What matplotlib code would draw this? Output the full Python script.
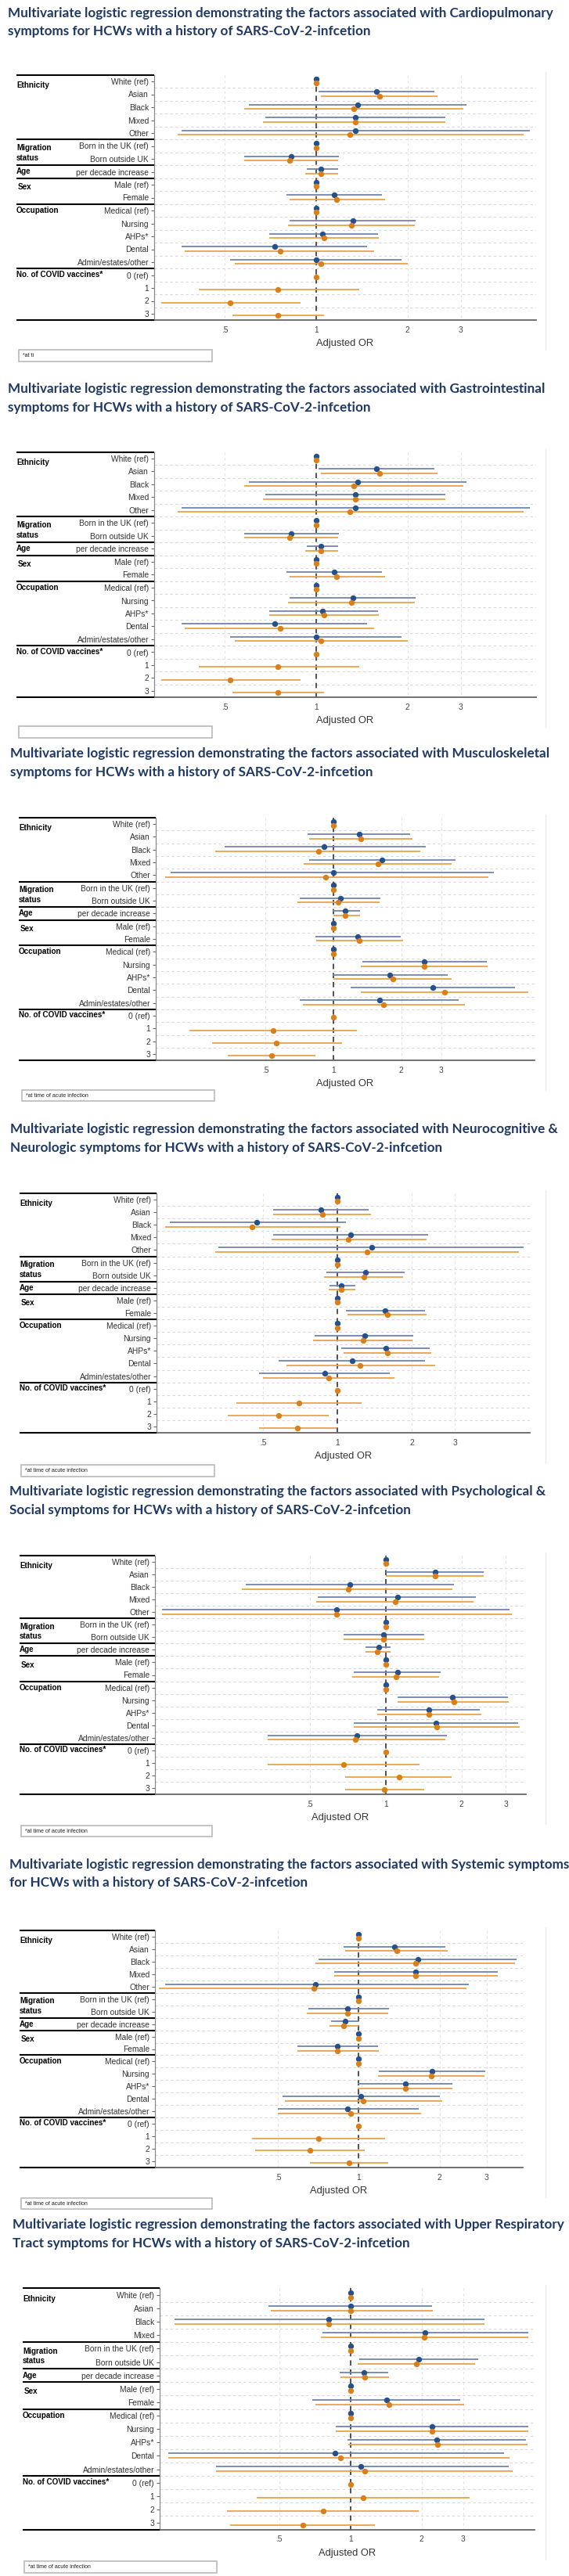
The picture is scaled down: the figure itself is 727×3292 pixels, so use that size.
import numpy as np
import matplotlib
matplotlib.use("Agg")
import matplotlib.pyplot as plt
import matplotlib.font_manager as fm
from matplotlib.transforms import blended_transform_factory
from matplotlib.lines import Line2D
from matplotlib.patches import Rectangle
from matplotlib.ticker import FixedLocator, NullLocator, FixedFormatter

# ---------------- DATA ----------------
ROW_LABELS = ["White (ref)", "Asian", "Black", "Mixed", "Other",
              "Born in the UK (ref)", "Born outside UK", "per decade increase",
              "Male (ref)", "Female", "Medical (ref)", "Nursing", "AHPs*",
              "Dental", "Admin/estates/other", "0 (ref)", "1", "2", "3"]
ROW_LABELS_URT = [l for l in ROW_LABELS if l != "Other"]

GROUPS = ["Ethnicity", "Migration\nstatus", "Age", "Sex", "Occupation", "No. of COVID vaccines*"]

XTICKS = [0.5, 1, 2, 3]
XTICK_LABELS = [".5", "1", "2", "3"]

# Cardiopulmonary (blue = model without vaccines, orange = model with vaccines)
CP_B_OR = [1, 1.58, 1.37, 1.35, 1.35, 1, 0.83, 1.04, 1, 1.15, 1, 1.32, 1.05, 0.73, 1.00]
CP_B_LO = [1, 1.02, 0.60, 0.68, 0.36, 1, 0.58, 0.93, 1, 0.80, 1, 0.82, 0.70, 0.36, 0.52]
CP_B_HI = [1, 2.45, 3.13, 2.66, 5.05, 1, 1.19, 1.18, 1, 1.65, 1, 2.13, 1.60, 1.47, 1.91]
CP_O_OR = [1, 1.62, 1.33, 1.35, 1.29, 1, 0.82, 1.04, 1, 1.17, 1, 1.31, 1.06, 0.76, 1.04, 1, 0.75, 0.52, 0.75]
CP_O_LO = [1, 1.04, 0.58, 0.67, 0.35, 1, 0.58, 0.92, 1, 0.82, 1, 0.81, 0.70, 0.37, 0.54, 1, 0.41, 0.31, 0.53]
CP_O_HI = [1, 2.52, 3.05, 2.67, 4.82, 1, 1.18, 1.18, 1, 1.69, 1, 2.11, 1.61, 1.55, 2.01, 1, 1.39, 0.89, 1.06]

# Gastrointestinal (identical values in the source figure)
GI_B_OR = list(CP_B_OR)
GI_B_LO = list(CP_B_LO)
GI_B_HI = list(CP_B_HI)
GI_O_OR = list(CP_O_OR)
GI_O_LO = list(CP_O_LO)
GI_O_HI = list(CP_O_HI)

# Musculoskeletal
MS_B_OR = [1, 1.30, 0.91, 1.64, 1.00, 1, 1.07, 1.13, 1, 1.28, 1, 2.53, 1.78, 2.75, 1.60]
MS_B_LO = [1, 0.77, 0.33, 0.78, 0.19, 1, 0.71, 0.99, 1, 0.83, 1, 1.34, 0.99, 1.19, 0.71]
MS_B_HI = [1, 2.19, 2.56, 3.47, 5.15, 1, 1.62, 1.31, 1, 1.99, 1, 4.78, 3.21, 6.36, 3.60]
MS_O_OR = [1, 1.32, 0.86, 1.57, 0.92, 1, 1.05, 1.13, 1, 1.30, 1, 2.52, 1.83, 3.11, 1.67, 1, 0.54, 0.56, 0.53]
MS_O_LO = [1, 0.78, 0.30, 0.74, 0.18, 1, 0.69, 1.00, 1, 0.84, 1, 1.32, 1.00, 1.32, 0.73, 1, 0.23, 0.29, 0.34]
MS_O_HI = [1, 2.24, 2.42, 3.35, 4.85, 1, 1.60, 1.31, 1, 2.03, 1, 4.82, 3.34, 7.32, 3.83, 1, 1.27, 1.09, 0.83]

# Neurocognitive & Neurologic
NE_B_OR = [1, 0.86, 0.47, 1.13, 1.38, 1, 1.30, 1.04, 1, 1.56, 1, 1.29, 1.57, 1.15, 0.89]
NE_B_LO = [1, 0.55, 0.21, 0.55, 0.33, 1, 0.90, 0.93, 1, 1.08, 1, 0.81, 1.04, 0.58, 0.48]
NE_B_HI = [1, 1.34, 1.08, 2.33, 5.69, 1, 1.87, 1.18, 1, 2.26, 1, 2.03, 2.36, 2.27, 1.63]
NE_O_OR = [1, 0.87, 0.45, 1.11, 1.32, 1, 1.28, 1.04, 1, 1.59, 1, 1.27, 1.59, 1.24, 0.92, 1, 0.70, 0.58, 0.69]
NE_O_LO = [1, 0.55, 0.20, 0.54, 0.32, 1, 0.88, 0.92, 1, 1.10, 1, 0.80, 1.06, 0.62, 0.50, 1, 0.39, 0.36, 0.48]
NE_O_HI = [1, 1.37, 1.03, 2.30, 5.45, 1, 1.85, 1.18, 1, 2.30, 1, 2.02, 2.40, 2.50, 1.71, 1, 1.25, 0.92, 0.99]

# Psychological & Social
PS_B_OR = [1, 1.57, 0.72, 1.12, 0.64, 1, 0.98, 0.94, 1, 1.12, 1, 1.84, 1.48, 1.58, 0.77]
PS_B_LO = [1, 1.00, 0.28, 0.54, 0.13, 1, 0.68, 0.83, 1, 0.75, 1, 1.12, 0.93, 0.75, 0.34]
PS_B_HI = [1, 2.45, 1.86, 2.28, 3.10, 1, 1.42, 1.05, 1, 1.65, 1, 3.05, 2.37, 3.35, 1.75]
PS_O_OR = [1, 1.57, 0.71, 1.09, 0.64, 1, 0.98, 0.93, 1, 1.10, 1, 1.86, 1.49, 1.59, 0.76, 1, 0.68, 1.13, 0.99]
PS_O_LO = [1, 1.00, 0.27, 0.53, 0.13, 1, 0.68, 0.83, 1, 0.74, 1, 1.12, 0.93, 0.75, 0.34, 1, 0.34, 0.69, 0.69]
PS_O_HI = [1, 2.45, 1.84, 2.23, 3.16, 1, 1.42, 1.05, 1, 1.63, 1, 3.08, 2.39, 3.39, 1.73, 1, 1.36, 1.83, 1.42]

# Systemic
SY_B_OR = [1, 1.36, 1.66, 1.63, 0.69, 1, 0.91, 0.89, 1, 0.83, 1, 1.88, 1.49, 1.02, 0.91]
SY_B_LO = [1, 0.88, 0.71, 0.81, 0.19, 1, 0.65, 0.79, 1, 0.59, 1, 1.19, 0.99, 0.52, 0.50]
SY_B_HI = [1, 2.10, 3.88, 3.29, 2.57, 1, 1.30, 1.00, 1, 1.18, 1, 2.97, 2.23, 2.00, 1.67]
SY_O_OR = [1, 1.39, 1.63, 1.63, 0.68, 1, 0.91, 0.88, 1, 0.83, 1, 1.86, 1.49, 1.04, 0.93, 1, 0.71, 0.66, 0.92]
SY_O_LO = [1, 0.89, 0.69, 0.81, 0.18, 1, 0.64, 0.78, 1, 0.59, 1, 1.18, 0.99, 0.53, 0.50, 1, 0.40, 0.41, 0.66]
SY_O_HI = [1, 2.15, 3.82, 3.30, 2.53, 1, 1.29, 1.00, 1, 1.19, 1, 2.95, 2.24, 2.05, 1.71, 1, 1.25, 1.05, 1.29]

# Upper Respiratory Tract (no "Other" row)
UR_B_OR = [1, 1.00, 0.81, 2.07, 1, 1.94, 1.14, 1, 1.42, 1, 2.21, 2.31, 0.86, 1.11]
UR_B_LO = [1, 0.45, 0.18, 0.76, 1, 1.09, 0.90, 1, 0.69, 1, 0.87, 0.97, 0.17, 0.27]
UR_B_HI = [1, 2.22, 3.69, 5.66, 1, 3.46, 1.45, 1, 2.92, 1, 5.66, 5.54, 4.45, 4.67]
UR_O_OR = [1, 1.00, 0.81, 2.05, 1, 1.90, 1.15, 1, 1.46, 1, 2.21, 2.34, 0.91, 1.15, 1, 1.13, 0.77, 0.63]
UR_O_LO = [1, 0.46, 0.18, 0.75, 1, 1.07, 0.91, 1, 0.71, 1, 0.87, 0.98, 0.17, 0.27, 1, 0.40, 0.30, 0.31]
UR_O_HI = [1, 2.23, 3.69, 5.64, 1, 3.36, 1.46, 1, 3.02, 1, 5.66, 5.62, 4.72, 4.86, 1, 3.20, 1.95, 1.27]

T1 = "Multivariate logistic regression demonstrating the factors associated with "
TITLES = [
    (T1 + "Cardiopulmonary", "symptoms for HCWs with a history of SARS-CoV-2-infcetion"),
    (T1 + "Gastrointestinal", "symptoms for HCWs with a history of SARS-CoV-2-infcetion"),
    (T1 + "Musculoskeletal", "symptoms for HCWs with a history of SARS-CoV-2-infcetion"),
    (T1 + "Neurocognitive &", "Neurologic symptoms for HCWs with a history of SARS-CoV-2-infcetion"),
    (T1 + "Psychological &", "Social symptoms for HCWs with a history of SARS-CoV-2-infcetion"),
    (T1 + "Systemic symptoms", "for HCWs with a history of SARS-CoV-2-infcetion"),
    (T1 + "Upper Respiratory", "Tract symptoms for HCWs with a history of SARS-CoV-2-infcetion"),
]
FOOTNOTES = ["*at ti", "", "*at time of acute infection", "*at time of acute infection",
             "*at time of acute infection", "*at time of acute infection",
             "*at time of acute infection"]

# ---------------- STYLE / LAYOUT ----------------
W, H = 727, 3292
avail = {f.name for f in fm.fontManager.ttflist}
def pick(cands):
    for c in cands:
        if c in avail:
            return c
    return "DejaVu Sans"
TITLE_FONT = pick(["Lato", "Roboto", "Open Sans", "Liberation Sans"])
LAB_FONT = pick(["Liberation Sans", "Roboto", "DejaVu Sans"])

TITLE_COLOR = "#1F3864"
BLUE_LINE, BLUE_DOT = "#6F86AE", "#24508C"
ORANGE_LINE, ORANGE_DOT = "#E8A34A", "#DD7F17"

fig = plt.figure(figsize=(W / 100, H / 100), dpi=100)
fig.patch.set_facecolor("white")
renderer = fig.canvas.get_renderer()

def fit(text, family, weight, target_px, base=10.0):
    t = fig.text(0, 0, text, fontsize=base, family=family, fontweight=weight)
    w = t.get_window_extent(renderer=renderer).width
    t.remove()
    return base * target_px / w

FS_TITLE = fit(TITLES[0][0], TITLE_FONT, "bold", 697)
FS_ROW = fit("Admin/estates/other", LAB_FONT, "normal", 92)
FS_GROUP = fit("No. of COVID vaccines*", LAB_FONT, "bold", 110)
FS_XLAB = fit("Adjusted OR", LAB_FONT, "normal", 73)
FS_FOOT = fit("*at time of acute infection", LAB_FONT, "normal", 80)
FS_XT = FS_ROW * 1.0

GEOM = [
    dict(tx=10, ty=(17, 40), l=197, r=685, y0=104, y1=401, lx=21, xlim=(0.293, 5.31), box=(24, 271, 447, 462)),
    dict(tx=10, ty=(497, 521), l=197, r=685, y0=586, y1=883, lx=21, xlim=(0.293, 5.31), box=(24, 271, 928, 943)),
    dict(tx=13, ty=(963, 987), l=199, r=683, y0=1053, y1=1347, lx=24, xlim=(0.163, 7.79), box=(28, 274, 1393, 1407)),
    dict(tx=13, ty=(1443, 1467), l=200, r=677, y0=1533, y1=1823, lx=25, xlim=(0.185, 6.03), box=(27, 274, 1872, 1887)),
    dict(tx=12, ty=(1906, 1930), l=198, r=672, y0=1996, y1=2285, lx=25, xlim=(0.122, 3.60), box=(27, 271, 2333, 2347)),
    dict(tx=12, ty=(2383, 2406), l=198, r=668, y0=2475, y1=2762, lx=25, xlim=(0.174, 4.09), box=(27, 271, 2809, 2823)),
    dict(tx=16, ty=(2843, 2867), l=204, r=683, y0=2933, y1=3224, lx=29, xlim=(0.156, 6.01), box=(31, 277, 3273, 3288)),
]

SERIES = [
    ((CP_B_OR, CP_B_LO, CP_B_HI), (CP_O_OR, CP_O_LO, CP_O_HI), ROW_LABELS),
    ((GI_B_OR, GI_B_LO, GI_B_HI), (GI_O_OR, GI_O_LO, GI_O_HI), ROW_LABELS),
    ((MS_B_OR, MS_B_LO, MS_B_HI), (MS_O_OR, MS_O_LO, MS_O_HI), ROW_LABELS),
    ((NE_B_OR, NE_B_LO, NE_B_HI), (NE_O_OR, NE_O_LO, NE_O_HI), ROW_LABELS),
    ((PS_B_OR, PS_B_LO, PS_B_HI), (PS_O_OR, PS_O_LO, PS_O_HI), ROW_LABELS),
    ((SY_B_OR, SY_B_LO, SY_B_HI), (SY_O_OR, SY_O_LO, SY_O_HI), ROW_LABELS),
    ((UR_B_OR, UR_B_LO, UR_B_HI), (UR_O_OR, UR_O_LO, UR_O_HI), ROW_LABELS_URT),
]

def fy(y):
    return 1 - y / H

for k, (g, (bser, oser, labels), title, foot) in enumerate(zip(GEOM, SERIES, TITLES, FOOTNOTES)):
    n = len(labels)
    s = (g["y1"] - g["y0"]) / (n - 1)
    top = g["y0"] - 0.5 * s
    bot = g["y1"] + 0.5 * s
    L, R = g["l"], g["r"]

    for line, yy in zip(title, g["ty"]):
        fig.text(g["tx"] / W, fy(yy), line, ha="left", va="center", fontsize=FS_TITLE,
                 family=TITLE_FONT, fontweight="bold", color=TITLE_COLOR)

    ax = fig.add_axes([L / W, fy(bot), (R - L) / W, (bot - top) / H])
    ax.set_facecolor("white")
    ax.set_xscale("log")
    ax.set_xlim(*g["xlim"])
    ax.set_ylim(n - 0.5, -0.5)

    ax.hlines(np.arange(n - 1) + 0.5, g["xlim"][0], g["xlim"][1], colors="#d8d8d8",
              linestyles=(0, (3, 3)), lw=0.8, zorder=0)
    ax.vlines([0.5, 2, 3], -0.5, n - 0.5, colors="#e4e4e4", linestyles=(0, (3, 3)), lw=0.8, zorder=0)
    ax.axvline(1, color="#333333", lw=1.2, ls=(0, (4, 3)), zorder=2)

    for (orv, lo, hi), lc, dc, off in ((bser, BLUE_LINE, BLUE_DOT, -0.2), (oser, ORANGE_LINE, ORANGE_DOT, 0.15)):
        orv, lo, hi = np.array(orv, float), np.array(lo, float), np.array(hi, float)
        yy = np.arange(len(orv)) + off
        m = hi > lo
        ax.hlines(yy[m], lo[m], hi[m], colors=lc, lw=1.3, zorder=3)
        ax.plot(orv, yy, "o", color=dc, ms=4.3, mec=dc, zorder=4, linestyle="none")

    for sp in ("top", "right"):
        ax.spines[sp].set_visible(False)
    ax.spines["left"].set_color("#888888")
    ax.spines["left"].set_linewidth(0.9)
    ax.spines["bottom"].set_color("#666666")
    ax.spines["bottom"].set_linewidth(1.3)

    ax.xaxis.set_major_locator(FixedLocator(XTICKS))
    ax.xaxis.set_major_formatter(FixedFormatter(XTICK_LABELS))
    ax.xaxis.set_minor_locator(NullLocator())
    ax.tick_params(axis="x", length=0, pad=5.5, labelsize=FS_XT, labelcolor="#444444")
    for t in ax.get_xticklabels():
        t.set_family(LAB_FONT)
    ax.set_yticks(np.arange(n))
    ax.set_yticklabels(labels, fontsize=FS_ROW, color="#333333", family=LAB_FONT)
    ax.tick_params(axis="y", length=3, width=0.8, color="#666666", pad=2)

    trans = blended_transform_factory(ax.transAxes, ax.transData)
    gx = (g["lx"] - L) / (R - L)
    eth_n = 5 if n == 19 else 4
    seps = [-0.5, eth_n - 0.5, eth_n + 1.5, eth_n + 2.5, eth_n + 4.5, eth_n + 9.5, n - 0.5]
    for yv in seps:
        ax.plot([gx, 0], [yv, yv], transform=trans, color="black", lw=1.5, clip_on=False,
                solid_capstyle="butt", zorder=5)
    gpos = [0.3, eth_n + 0.55, eth_n + 2, eth_n + 3.2, eth_n + 5, eth_n + 9.95]
    gxs = [gx, gx, gx, gx + 2.0 / (R - L), gx, gx]
    for name, yv, xg in zip(GROUPS, gpos, gxs):
        ax.text(xg, yv, name, transform=trans, ha="left", va="center", fontsize=FS_GROUP,
                fontweight="bold", family=LAB_FONT, color="black", linespacing=1.3)

    fig.text((L + R) / 2 / W, fy(bot + 30), "Adjusted OR", ha="center", va="center",
             fontsize=FS_XLAB, family=LAB_FONT, color="#333333")

    fig.add_artist(Line2D([697 / W, 697 / W], [fy(top - 4), fy(bot + 38)], color="#ececec", lw=1))

    bx0, bx1, by0, by1 = g["box"]
    fig.add_artist(Rectangle((bx0 / W, fy(by1)), (bx1 - bx0) / W, (by1 - by0) / H,
                             transform=fig.transFigure, facecolor="white", edgecolor="#b4b4b4", lw=1.1))
    if foot:
        fig.text((bx0 + 5) / W, fy((by0 + by1) / 2), foot, ha="left", va="center",
                 fontsize=FS_FOOT, family=LAB_FONT, color="#222222")

fig.savefig("out.png", dpi=100, facecolor="white")
